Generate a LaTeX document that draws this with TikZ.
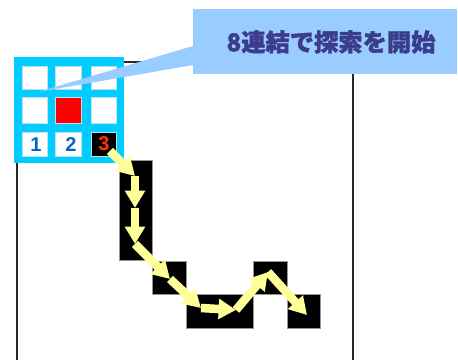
\documentclass[tikz,border=0pt]{standalone}
\usepackage{fontspec}
\setmainfont{Liberation Sans}
\newfontfamily\jpfont{Noto Sans CJK JP}[BoldFeatures={FakeBold=1.5}]
\usetikzlibrary{arrows.meta}
\definecolor{cyanbox}{RGB}{0,204,255}
\definecolor{callout}{RGB}{153,204,255}
\definecolor{calltext}{RGB}{60,60,140}
\definecolor{digitblue}{RGB}{0,102,204}
\definecolor{digitred}{RGB}{255,51,0}
\definecolor{arrowyellow}{RGB}{255,255,153}
\tikzset{
  frameline/.style={draw={rgb,255:red,40;green,40;blue,40}, line width=1.1pt},
  pix/.style={fill=black, draw={rgb,255:red,150;green,150;blue,150}, line width=0.4pt},
  cell/.style={fill=white, draw={rgb,255:red,190;green,225;blue,240}, line width=0.4pt},
  digit/.style={font=\bfseries\fontsize{15}{15}\selectfont, text=digitblue, inner sep=0pt},
  yarrow/.style={draw=arrowyellow, line width=6.4pt, -{Triangle[width=14.5pt,length=13pt]}},
}
\begin{document}
\begin{tikzpicture}[x=0.75pt,y=-0.75pt]
\useasboundingbox (0,0) rectangle (458,360);
% frame lines
\coordinate (ftl) at (17,62);
\coordinate (ftr) at (353,62);
\coordinate (fbl) at (17,360);
\coordinate (fbr) at (353,360);
\draw[frameline] (fbl) -- (ftl) -- (ftr) -- (fbr);
% black pixels
\draw[pix] (119,160) rectangle (152,260);
\draw[pix] (152,261) rectangle (186,294);
\draw[pix] (186,294) rectangle (253,328);
\draw[pix] (253,261) rectangle (287,294);
\draw[pix] (287,294) rectangle (320,328);
% neighbourhood grid
\fill[cyanbox] (14,57) rectangle (124,163);
\draw[cell] (22,66) rectangle (47,89);
\draw[cell] (55,66) rectangle (81,89);
\draw[cell] (91,66) rectangle (116,89);
\draw[cell] (22,97) rectangle (47,123);
\draw[fill=red, draw={rgb,255:red,190;green,225;blue,240}, line width=0.4pt] (55,97) rectangle (81,123);
\draw[cell] (91,97) rectangle (116,123);
\draw[cell] (22,132) rectangle (47,156);
\draw[cell] (55,132) rectangle (81,156);
\draw[fill=black, draw={rgb,255:red,190;green,225;blue,240}, line width=0.4pt] (91,132) rectangle (116,156);
\node[digit] (d1) at (36,144.5) {1};
\node[digit] (d2) at (71,144.5) {2};
\node[digit, text=digitred] (d3) at (104,143.5) {3};
% callout
\fill[callout] (193,46) -- (38,92) -- (193,65) -- cycle;
\fill[callout] (193,9) rectangle (457,74);
\node[font=\jpfont\bfseries\fontsize{18.2}{20}\selectfont, text=calltext] (title) at (331,42) {8連結で探索を開始};
% path arrows
\coordinate (p0) at (110,151);
\coordinate (p1) at (135,176);
\coordinate (p2) at (135,208);
\coordinate (p3) at (135,244);
\coordinate (p4) at (170,279);
\coordinate (p5) at (201,308);
\coordinate (p6) at (236,310);
\coordinate (p7) at (268,272);
\coordinate (p8) at (307,315);
\draw[yarrow] (p0) -- (p1);
\draw[yarrow] (p1) -- (p2);
\draw[yarrow] (p2) -- (p3);
\draw[yarrow] (p3) -- (p4);
\draw[yarrow] (p4) -- (p5);
\draw[yarrow] (p5) -- (p6);
\draw[yarrow] (p6) -- (p7);
\draw[yarrow] (p7) -- (p8);
\end{tikzpicture}
\end{document}
